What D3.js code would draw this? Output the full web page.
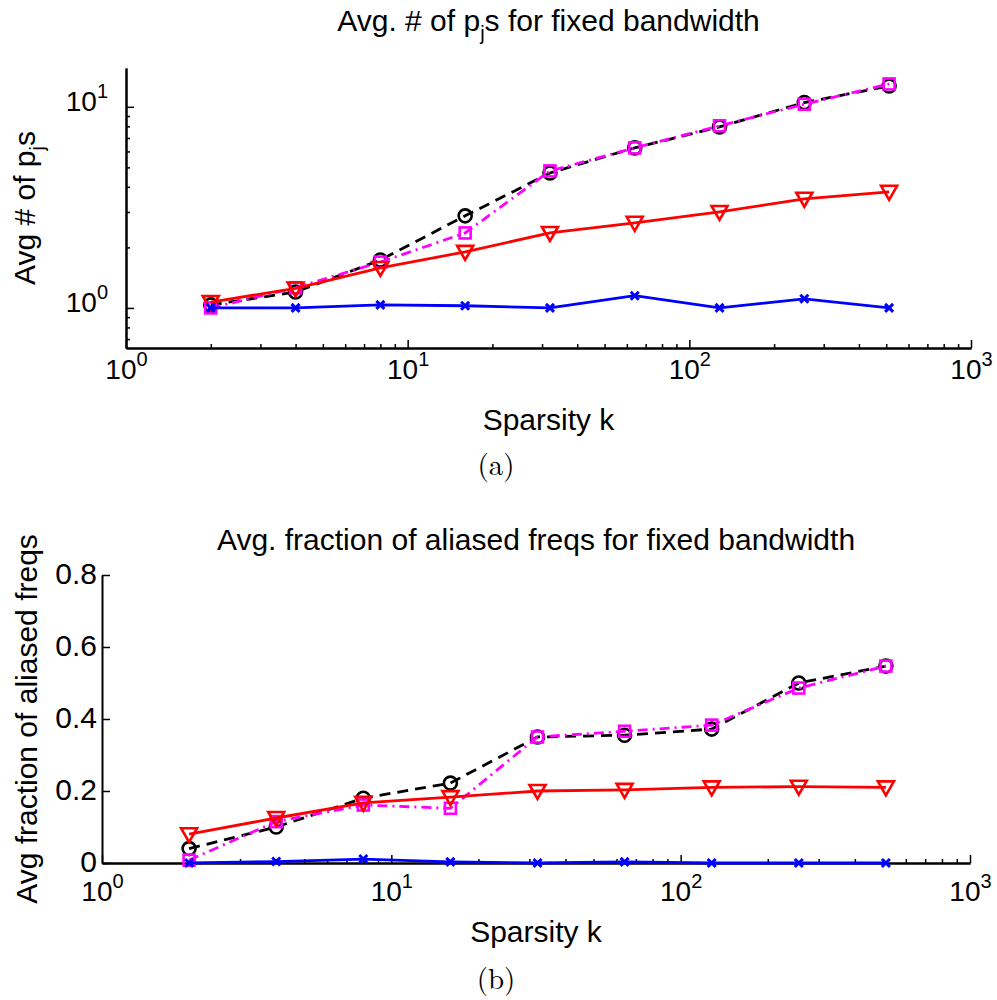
<!DOCTYPE html>
<html>
<head>
<meta charset="utf-8">
<script src="https://cdn.jsdelivr.net/npm/d3@7"></script>
<style>
  body { margin: 0; background: #fff; }
  svg text { font-family: "Liberation Sans", Arial, Helvetica, sans-serif; fill: #000; }
  .axis path, .axis line { stroke: #000; }
  .axis path { stroke-width: 2; }
  .axis line { stroke-width: 1.5; }
</style>
</head>
<body>
<svg id="fig" width="997" height="1000"></svg>
<script>
// sparsity values (x)
const sparsity = [2, 4, 8, 16, 32, 64, 128, 256, 512];

// (a) avg number of p_j s
const topBlue    = [1.0, 1.0, 1.035, 1.025, 1.0, 1.15, 1.0, 1.11, 1.0];
const topRed     = [1.07, 1.25, 1.58, 1.90, 2.36, 2.65, 3.0, 3.49, 3.78];
const topBlack   = [1.035, 1.20, 1.73, 2.87, 4.69, 6.25, 7.95, 10.5, 12.7];
const topMagenta = [1.0, 1.26, 1.69, 2.36, 4.8, 6.25, 8.05, 10.3, 13.0];

// (b) avg fraction of aliased freqs
const botBlue    = [0.0, 0.004, 0.011, 0.003, 0.0, 0.003, 0.0, 0.0, 0.0];
const botRed     = [0.08, 0.125, 0.167, 0.183, 0.20, 0.203, 0.21, 0.212, 0.21];
const botBlack   = [0.04, 0.10, 0.18, 0.222, 0.35, 0.355, 0.372, 0.50, 0.547];
const botMagenta = [0.008, 0.115, 0.161, 0.152, 0.35, 0.366, 0.383, 0.486, 0.547];

const xMajor = [1, 10, 100, 1000];
const yLogMajor = [1, 10];
const yLinTicks = [0, 0.2, 0.4, 0.6, 0.8];

const svg = d3.select("#fig");

// minor ticks for a log domain
function logMinor(lo, hi) {
    const out = [];
    for (let e = -1; e <= 3; e++) {
        for (let m = 2; m <= 9; m++) {
            const v = m * Math.pow(10, e);
            if (v > lo && v < hi) out.push(v);
        }
    }
    return out;
}

// replace "10^n" labels with tspans
function powLabels(sel) {
    sel.selectAll("text").each(function (d) {
        const t = d3.select(this).text("");
        t.append("tspan").attr("font-size", 28).text("10");
        t.append("tspan").attr("font-size", 20).attr("dy", -13)
            .text(Math.round(Math.log10(d)));
    });
}

const seriesStyle = [
    { key: "black", color: "#000", dash: "11,7", marker: "circle" },
    { key: "magenta", color: "#ff00ff", dash: "10,5,2,5", marker: "square" },
    { key: "red", color: "#ff0000", dash: null, marker: "tri" },
    { key: "blue", color: "#0000ff", dash: null, marker: "x" }
];

function drawPanel(p) {
    const g = svg.append("g");
    const x = d3.scaleLog().domain([1, 1000]).range([p.left, p.right]);
    const y = p.yScale;

    // x axis: minor then major
    g.append("g").attr("class", "axis")
        .attr("transform", `translate(0,${p.bottom})`)
        .call(d3.axisBottom(x).tickValues(logMinor(1, 1000)).tickSize(-4).tickSizeOuter(0).tickFormat(""));
    g.append("g").attr("class", "axis")
        .attr("transform", `translate(0,${p.bottom})`)
        .call(d3.axisBottom(x).tickValues(xMajor).tickSize(-8).tickSizeOuter(0).tickPadding(p.xPad))
        .call(powLabels);

    // y axis
    if (p.logY) {
        g.append("g").attr("class", "axis")
            .attr("transform", `translate(${p.left},0)`)
            .call(d3.axisLeft(y).tickValues(logMinor(y.domain()[0], y.domain()[1])).tickSize(-4).tickSizeOuter(0).tickFormat(""));
        g.append("g").attr("class", "axis")
            .attr("transform", `translate(${p.left},0)`)
            .call(d3.axisLeft(y).tickValues(yLogMajor).tickSize(-8).tickSizeOuter(0).tickPadding(18))
            .call(powLabels);
    } else {
        g.append("g").attr("class", "axis")
            .attr("transform", `translate(${p.left},0)`)
            .call(d3.axisLeft(y).tickValues(yLinTicks).tickSize(-8).tickSizeOuter(0).tickPadding(5)
                .tickFormat(d => d === 0 ? "0" : d.toFixed(1)))
            .selectAll("text").attr("font-size", 30).attr("dy", "0.27em");
    }
    g.selectAll(".axis .domain").attr("stroke-width", 2);

    // lines + markers
    const line = d3.line().x(d => x(d[0])).y(d => y(d[1]));
    seriesStyle.forEach(s => {
        const pts = sparsity.map((k, i) => [k, p.series[s.key][i]]);
        g.append("path")
            .datum(pts)
            .attr("fill", "none")
            .attr("stroke", s.color)
            .attr("stroke-width", 2.8)
            .attr("stroke-dasharray", s.dash)
            .attr("d", line);
        const m = g.append("g").selectAll("g").data(pts).enter().append("g")
            .attr("transform", d => `translate(${x(d[0])},${y(d[1])})`);
        if (s.marker === "circle") {
            m.append("circle").attr("r", 6.5).attr("fill", "none")
                .attr("stroke", s.color).attr("stroke-width", 2.6);
        } else if (s.marker === "square") {
            m.append("rect").attr("x", -5.5).attr("y", -5.5).attr("width", 11).attr("height", 11)
                .attr("fill", "none").attr("stroke", s.color).attr("stroke-width", 2.6);
        } else if (s.marker === "tri") {
            m.append("path").attr("d", "M-8,-6L8,-6L0,8Z")
                .attr("fill", "none").attr("stroke", s.color).attr("stroke-width", 2.6);
        } else {
            m.append("path").attr("d", "M-4,-4L4,4M-4,4L4,-4")
                .attr("stroke", s.color).attr("stroke-width", 3);
        }
    });

    const cx = (p.left + p.right) / 2;
    const cy = (y.range()[0] + y.range()[1]) / 2;

    // title
    const t = g.append("text").attr("x", cx).attr("y", p.titleY)
        .attr("text-anchor", "middle").attr("font-size", 30);
    p.title(t);

    // x label
    g.append("text").attr("x", cx).attr("y", p.xLabelY)
        .attr("text-anchor", "middle").attr("font-size", 30).text("Sparsity k");

    // y label
    const yl = g.append("text")
        .attr("transform", `translate(${p.yLabelX},${cy}) rotate(-90)`)
        .attr("text-anchor", "middle").attr("font-size", 30);
    p.yLabel(yl);

    // caption
    g.append("text").attr("x", 496).attr("y", p.capY)
        .attr("text-anchor", "middle")
        .attr("font-size", 29)
        .style("font-family", "'Latin Modern Roman', 'DejaVu Serif', 'Liberation Serif', serif")
        .text(p.caption);
}

function pjs(t, prefix) {
    t.append("tspan").text(prefix + "p");
    t.append("tspan").attr("font-size", 20).attr("dy", 9).text("j");
    t.append("tspan").attr("dy", -9).text("s");
}

drawPanel({
    left: 126, right: 971, bottom: 348,
    logY: true,
    yScale: d3.scaleLog().domain([0.632, 15.6]).range([348, 68]),
    series: { blue: topBlue, red: topRed, black: topBlack, magenta: topMagenta },
    xPad: 24,
    titleY: 31,
    title: t => { pjs(t, "Avg. # of "); t.append("tspan").text(" for fixed bandwidth"); },
    xLabelY: 430,
    yLabelX: 35,
    yLabel: t => pjs(t, "Avg # of "),
    capY: 475,
    caption: "(a)"
});

drawPanel({
    left: 102, right: 970, bottom: 863,
    logY: false,
    yScale: d3.scaleLinear().domain([0, 0.8]).range([863, 575]),
    series: { blue: botBlue, red: botRed, black: botBlack, magenta: botMagenta },
    xPad: 31,
    titleY: 550,
    title: t => t.text("Avg. fraction of aliased freqs for fixed bandwidth"),
    xLabelY: 942,
    yLabelX: 37,
    yLabel: t => t.text("Avg fraction of aliased freqs"),
    capY: 989,
    caption: "(b)"
});
</script>
</body>
</html>
